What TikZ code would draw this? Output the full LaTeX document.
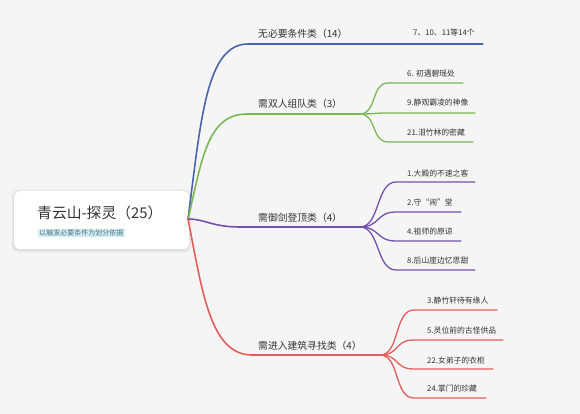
\documentclass[tikz,border=0pt]{standalone}
\usepackage{fontspec}
\setmainfont{Noto Sans CJK SC}
\definecolor{bgc}{HTML}{F5F5F5}
\definecolor{cblue}{HTML}{4A64AD}
\definecolor{cgreen}{HTML}{7AB854}
\definecolor{cpurple}{HTML}{7451B0}
\definecolor{cred}{HTML}{E35D5A}
\definecolor{txt}{HTML}{333333}
\definecolor{subbg}{HTML}{D3EDF2}
\definecolor{subtxt}{HTML}{4D7683}
\tikzset{
  branchlbl/.style={anchor=west, inner sep=0pt, font=\fontsize{9.8}{11}\selectfont, text=txt},
  leaflbl/.style={anchor=west, inner sep=0pt, font=\fontsize{7.8}{9}\selectfont, text=txt},
  mainline/.style={line width=1.6pt, line cap=round},
  leafline/.style={line width=1.3pt, line cap=round},
}
\begin{document}
\begin{tikzpicture}[x=1pt,y=-1pt]
\useasboundingbox (0,0) rectangle (580,414);
\fill[bgc] (0,0) rectangle (580,414);
% root box with soft shadow
\foreach \i/\o in {3/0.02,2/0.03,1/0.04}{
  \fill[black, opacity=\o, rounded corners=7pt] (14-\i,191-\i+1) rectangle (189+\i,249+\i+1);
}
\node[draw=none, fill=white, rounded corners=6pt, minimum width=175pt, minimum height=58pt, anchor=north west, inner sep=0pt] (root) at (14,191) {};
\node[anchor=west, inner sep=0pt, font=\fontsize{14.8}{16}\selectfont, text=txt] (title) at (37,213) {青云山-探灵（25）};
\node[anchor=west, inner sep=1.2pt, fill=subbg, font=\fontsize{7}{8}\selectfont, text=subtxt] (sub) at (38,233) {以触发必要条件为划分依据};
\coordinate (r) at (188,219);

% branch coordinates
\coordinate (b1s) at (248,44);  \coordinate (b1e) at (360,44);
\coordinate (b2s) at (247,114); \coordinate (b2e) at (360,114);
\coordinate (b3s) at (240,227); \coordinate (b3e) at (360,227);
\coordinate (b4s) at (252,355); \coordinate (b4e) at (380,355);

% branch labels
\node[branchlbl] (b1) at (258,34) {无必要条件类（14）};
\node[branchlbl] (b2) at (258,104) {需双人组队类（3）};
\node[branchlbl] (b3) at (258,218) {需御剑登顶类（4）};
\node[branchlbl] (b4) at (258,346) {需进入建筑寻找类（4）};

% main connectors
\draw[mainline, cblue] (r) .. controls (201,120) and (206,44) .. (b1s) -- (b1e);
\draw[mainline, cgreen] (r) .. controls (202,160) and (207,114) .. (b2s) -- (b2e);
\draw[mainline, cpurple] (r) .. controls (205,219) and (212,227) .. (b3s) -- (b3e);
\draw[mainline, cred] (r) .. controls (202,290) and (210,355) .. (b4s) -- (b4e);

% leaf: blue
\coordinate (l1e) at (483,44);
\node[leaflbl] (l1) at (413,33) {7、10、11等14个};
\draw[leafline, cblue] (b1e) -- (l1e);

% leaves: green
\coordinate (g1s) at (388,83);  \coordinate (g1e) at (463,83);
\coordinate (g2s) at (388,113); \coordinate (g2e) at (475,113);
\coordinate (g3s) at (388,142); \coordinate (g3e) at (473,142);
\node[leaflbl] (g1) at (407,74) {6. 初遇碧瑶处};
\node[leaflbl] (g2) at (407,103) {9.静观霸凌的神像};
\node[leaflbl] (g3) at (407,133) {21.泪竹林的密藏};
\foreach \a/\b in {g1s/g1e,g2s/g2e,g3s/g3e}{
  \draw[leafline, cgreen] (b2e) .. controls +(17,0) and +(-17,0) .. (\a) -- (\b);
}

% leaves: purple
\coordinate (p1s) at (396,182); \coordinate (p1e) at (475,182);
\coordinate (p2s) at (396,212); \coordinate (p2e) at (461,212);
\coordinate (p3s) at (396,241); \coordinate (p3e) at (461,241);
\coordinate (p4s) at (396,270); \coordinate (p4e) at (475,270);
\node[leaflbl] (p1) at (407,173) {1.大殿的不速之客};
\node[leaflbl] (p2) at (407,203) {2.守“闹”堂};
\node[leaflbl] (p3) at (407,232) {4.祖师的原谅};
\node[leaflbl] (p4) at (407,261) {8.后山崖边忆思甜};
\foreach \a/\b in {p1s/p1e,p2s/p2e,p3s/p3e,p4s/p4e}{
  \draw[leafline, cpurple] (b3e) .. controls +(20,0) and +(-20,0) .. (\a) -- (\b);
}

% leaves: red
\coordinate (q1s) at (414,310); \coordinate (q1e) at (497,310);
\coordinate (q2s) at (414,340); \coordinate (q2e) at (503,340);
\coordinate (q3s) at (414,369); \coordinate (q3e) at (493,369);
\coordinate (q4s) at (414,398); \coordinate (q4e) at (486,398);
\node[leaflbl] (q1) at (427,301) {3.静竹轩待有缘人};
\node[leaflbl] (q2) at (427,331) {5.灵位前的古怪供品};
\node[leaflbl] (q3) at (427,360) {22.女弟子的衣柜};
\node[leaflbl] (q4) at (427,389) {24.掌门的珍藏};
\foreach \a/\b in {q1s/q1e,q2s/q2e,q3s/q3e,q4s/q4e}{
  \draw[leafline, cred] (b4e) .. controls +(20,0) and +(-20,0) .. (\a) -- (\b);
}
\end{tikzpicture}
\end{document}
